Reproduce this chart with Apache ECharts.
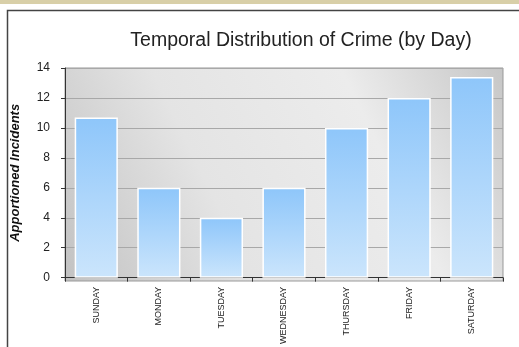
<!DOCTYPE html>
<html><head><meta charset="utf-8">
<script src="https://cdn.jsdelivr.net/npm/echarts@6/dist/echarts.min.js"></script>
<style>html,body{margin:0;padding:0;background:#fff}#c{width:519px;height:347px}</style>
</head><body><div id="c"></div>
<script>
const categories = ['SUNDAY','MONDAY','TUESDAY','WEDNESDAY','THURSDAY','FRIDAY','SATURDAY'];
const incidents = [10.7, 6, 4, 6, 10, 12, 13.4];
const yTicks = [0, 2, 4, 6, 8, 10, 12, 14];

const chart = echarts.init(document.getElementById('c'), null, {renderer:'canvas'});
chart.setOption({
  animation:false,
  backgroundColor:'#fff',
  title:{text:'Temporal Distribution of Crime (by Day)', left:296, top:26, textAlign:'center',
    textStyle:{fontFamily:'Liberation Sans', fontWeight:'normal', fontSize:19.5, color:'#222'}},
  graphic:[
    {type:'rect', shape:{x:0,y:0,width:519,height:4}, style:{fill:'#d8cfa8'}},
    {type:'rect', shape:{x:7.5,y:10.5,width:530,height:360}, style:{fill:'none', stroke:'#444', lineWidth:1.5}},
    {type:'rect', z:-1, shape:{x:65,y:68,width:438,height:213},
      style:{fill:new echarts.graphic.LinearGradient(0,1,1,0,[
        {offset:0,color:'#c2c2c2'},{offset:0.35,color:'#e4e4e4'},{offset:0.7,color:'#ececec'},{offset:1,color:'#c6c6c6'}]),
        stroke:'#999', lineWidth:1}}
  ],
  grid:{left:65, right:16, top:68, bottom:66},
  xAxis:{type:'category', data:categories,
    axisLine:{lineStyle:{color:'#333', width:1}},
    axisTick:{show:true, alignWithLabel:false, length:4, lineStyle:{color:'#333'}},
    axisLabel:{rotate:90, interval:0, fontFamily:'Liberation Sans', fontSize:9, color:'#222', margin:9}},
  yAxis:{type:'value', min:0, max:14, interval:2,
    name:'Apportioned Incidents', nameLocation:'middle', nameGap:43,
    nameTextStyle:{fontFamily:'Liberation Sans', fontWeight:'bold', fontStyle:'italic', fontSize:13, color:'#111'},
    axisLine:{show:true, lineStyle:{color:'#333'}},
    axisTick:{show:true, length:4, lineStyle:{color:'#333'}},
    axisLabel:{fontFamily:'Liberation Sans', fontSize:12, color:'#222', margin:15,
      formatter:v=>yTicks.includes(v)?String(v):''},
    splitLine:{lineStyle:{color:'#a8a8a8', width:1}}},
  series:[{type:'bar', data:incidents, barWidth:'69%',
    itemStyle:{borderColor:'#ffffff', borderWidth:1.5,
      color:new echarts.graphic.LinearGradient(0,0,0,1,[{offset:0,color:'#8ec6fa'},{offset:1,color:'#cbe5fc'}])}}]
});
</script></body></html>
